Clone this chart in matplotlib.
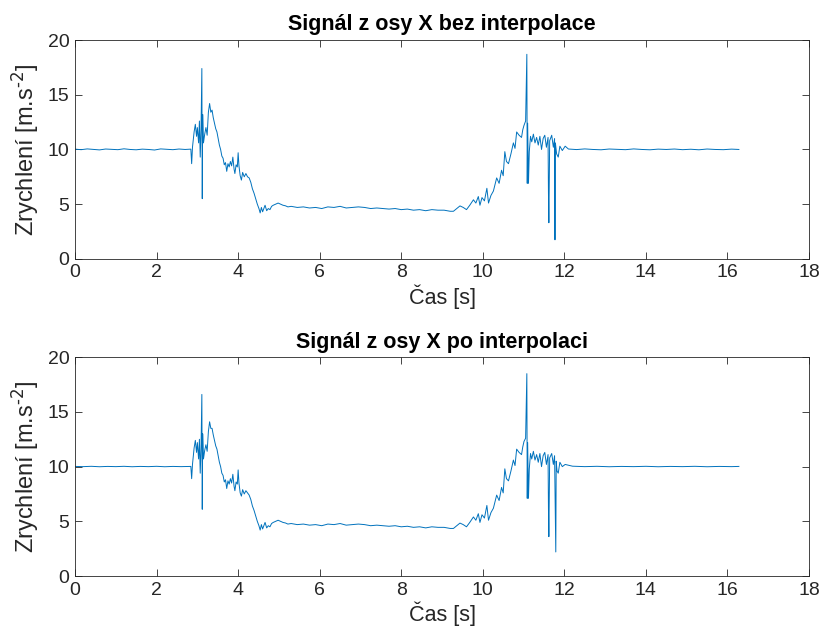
"""Signál z osy X - před a po interpolaci (two stacked plots)."""

import matplotlib

matplotlib.use("Agg")
import matplotlib.pyplot as plt

plt.rcParams["font.family"] = ["Liberation Sans", "DejaVu Sans"]
plt.rcParams["mathtext.default"] = "regular"

LINE_COLOR = "#0072BD"

# --- values --------------------------------------------------------------
t_raw = [
    0.00, 0.15, 0.30, 0.45, 0.60, 0.75, 0.90, 1.05, 1.20, 1.35, 1.50, 1.65,
    1.80, 1.95, 2.10, 2.25, 2.40, 2.55, 2.70, 2.84,
    2.86, 2.88, 2.92, 2.95, 2.98, 3.00, 3.03, 3.05, 3.07, 3.09, 3.11, 3.12,
    3.13, 3.15, 3.18, 3.21, 3.24, 3.27, 3.30, 3.33, 3.36, 3.39, 3.42, 3.45,
    3.48, 3.51, 3.54, 3.57, 3.60, 3.63, 3.66, 3.69, 3.72, 3.75, 3.78, 3.81,
    3.84, 3.87, 3.90, 3.92, 3.95, 3.98, 4.00, 4.02, 4.05, 4.08, 4.11, 4.15,
    4.19, 4.23, 4.27, 4.31, 4.35, 4.39, 4.43, 4.47, 4.51, 4.54, 4.57, 4.60,
    4.63, 4.66, 4.70, 4.74, 4.78, 4.82, 4.86, 4.92, 4.98, 5.04, 5.10, 5.16,
    5.22, 5.30, 5.45, 5.60, 5.75, 5.90, 6.05, 6.20, 6.35, 6.50, 6.65, 6.80,
    6.95, 7.10, 7.25, 7.40, 7.55, 7.70, 7.85, 8.00, 8.15, 8.30, 8.45, 8.60,
    8.75, 8.90, 9.05, 9.20, 9.28, 9.36, 9.44, 9.52, 9.60, 9.68, 9.77, 9.83,
    9.89, 9.93, 9.98, 10.04, 10.10, 10.14, 10.20, 10.26, 10.34, 10.40, 10.46,
    10.50, 10.54, 10.58, 10.63, 10.69, 10.75, 10.79, 10.83, 10.89, 10.95,
    10.98, 11.01, 11.05, 11.08, 11.09, 11.10, 11.12, 11.14, 11.17, 11.20,
    11.24, 11.28, 11.32, 11.36, 11.40, 11.44, 11.48, 11.52, 11.56, 11.60,
    11.61, 11.62, 11.64, 11.69, 11.73, 11.76, 11.77, 11.78, 11.81, 11.85,
    11.89, 11.95, 12.02, 12.10, 12.30, 12.50, 12.70, 12.90, 13.10, 13.30,
    13.50, 13.70, 13.90, 14.10, 14.30, 14.50, 14.70, 14.90, 15.10, 15.30,
    15.50, 15.70, 15.90, 16.10, 16.28,
]
acc_raw = [
    10.03, 9.98, 10.05, 10.00, 9.96, 10.04, 10.01, 9.98, 10.06, 10.00, 9.97, 10.03,
    10.00, 9.95, 10.05, 10.02, 9.98, 10.04, 10.00, 10.03,
    8.70, 10.20, 11.60, 12.30, 11.20, 12.00, 10.60, 12.60, 9.30, 11.80, 17.40, 5.50,
    13.20, 10.60, 11.40, 12.00, 11.30, 13.40, 14.20, 13.40, 13.60, 12.90, 12.40, 11.90,
    11.60, 11.00, 10.40, 10.00, 9.40, 9.20, 8.60, 8.80, 8.00, 8.70, 8.40, 8.90,
    8.50, 9.30, 8.20, 7.80, 8.60, 8.40, 9.70, 8.50, 7.60, 7.20, 7.90, 7.50,
    7.80, 7.50, 7.40, 7.00, 6.40, 6.00, 5.50, 5.00, 4.60, 4.20, 4.70, 4.30,
    4.60, 4.90, 4.40, 4.60, 4.50, 4.80, 4.90, 5.00, 5.10, 5.00, 4.90, 4.85,
    4.75, 4.80, 4.70, 4.75, 4.65, 4.70, 4.60, 4.75, 4.70, 4.80, 4.65, 4.70,
    4.75, 4.70, 4.60, 4.65, 4.60, 4.55, 4.60, 4.50, 4.55, 4.45, 4.50, 4.40,
    4.50, 4.45, 4.45, 4.35, 4.35, 4.60, 4.84, 4.70, 4.50, 4.90, 5.40, 5.10,
    5.70, 4.90, 5.60, 5.30, 6.45, 5.10, 5.80, 6.20, 7.40, 6.90, 8.10,
    7.60, 9.80, 8.90, 8.70, 9.60, 10.60, 10.10, 11.60, 11.30, 11.10,
    11.80, 12.20, 12.60, 18.70, 6.90, 12.40, 6.90, 9.80, 11.20, 10.70,
    11.40, 10.60, 11.10, 10.40, 11.20, 10.00, 11.00, 11.30, 10.20, 11.10,
    6.00, 3.30, 10.80, 11.30, 10.20, 11.00, 1.74, 10.60, 9.60, 9.30,
    10.30, 9.90, 10.30, 10.04, 9.99, 10.05, 10.00, 9.97, 10.04, 10.01,
    9.98, 10.05, 10.00, 9.97, 10.03, 10.00, 10.04, 9.98, 10.02, 9.97,
    10.04, 10.00, 9.98, 10.03, 10.00,
]

t_interp = [
    0.00, 0.20, 0.40, 0.60, 0.80, 1.00, 1.20, 1.40, 1.60, 1.80, 2.00, 2.20,
    2.40, 2.60, 2.84,
    2.86, 2.88, 2.92, 2.95, 2.98, 3.00, 3.03, 3.05, 3.07, 3.09, 3.11, 3.12,
    3.13, 3.15, 3.18, 3.21, 3.24, 3.27, 3.30, 3.33, 3.36, 3.39, 3.42, 3.45,
    3.48, 3.51, 3.54, 3.57, 3.60, 3.63, 3.66, 3.69, 3.72, 3.75, 3.78, 3.81,
    3.84, 3.87, 3.90, 3.92, 3.95, 3.98, 4.00, 4.02, 4.05, 4.08, 4.11, 4.15,
    4.19, 4.23, 4.27, 4.31, 4.35, 4.39, 4.43, 4.47, 4.51, 4.54, 4.57, 4.60,
    4.63, 4.66, 4.70, 4.74, 4.78, 4.82, 4.86, 4.92, 4.98, 5.04, 5.10, 5.16,
    5.22, 5.30, 5.45, 5.60, 5.75, 5.90, 6.05, 6.20, 6.35, 6.50, 6.65, 6.80,
    6.95, 7.10, 7.25, 7.40, 7.55, 7.70, 7.85, 8.00, 8.15, 8.30, 8.45, 8.60,
    8.75, 8.90, 9.05, 9.20, 9.28, 9.36, 9.44, 9.52, 9.60, 9.68, 9.77, 9.83,
    9.89, 9.93, 9.98, 10.04, 10.10, 10.14, 10.20, 10.26, 10.34, 10.40, 10.46,
    10.50, 10.54, 10.58, 10.63, 10.69, 10.75, 10.79, 10.83, 10.89, 10.95,
    10.98, 11.01, 11.05, 11.08, 11.09, 11.10, 11.12, 11.14, 11.17, 11.20,
    11.24, 11.28, 11.32, 11.36, 11.40, 11.44, 11.48, 11.52, 11.56, 11.60,
    11.61, 11.62, 11.64, 11.69, 11.73, 11.76, 11.79, 11.80, 11.82, 11.85,
    11.89, 11.95, 12.02, 12.20, 12.50, 12.80, 13.10, 13.40, 13.70, 14.00,
    14.30, 14.60, 14.90, 15.20, 15.50, 15.80, 16.10, 16.28,
]
acc_interp = [
    10.02, 10.00, 10.03, 9.99, 10.02, 10.00, 10.03, 9.99, 10.02, 10.00, 10.03, 9.99,
    10.02, 10.00, 10.02,
    8.90, 10.20, 11.70, 12.40, 11.30, 12.20, 10.70, 12.50, 9.40, 11.70, 16.60, 6.10,
    13.00, 10.70, 11.50, 12.00, 11.40, 13.20, 14.10, 13.50, 13.50, 12.90, 12.40, 11.90,
    11.60, 11.00, 10.40, 10.00, 9.40, 9.20, 8.60, 8.80, 8.00, 8.70, 8.40, 8.90,
    8.50, 9.30, 8.20, 7.80, 8.60, 8.40, 9.70, 8.50, 7.60, 7.30, 7.90, 7.50,
    7.80, 7.60, 7.40, 7.00, 6.40, 6.00, 5.50, 5.00, 4.60, 4.20, 4.70, 4.30,
    4.60, 4.90, 4.40, 4.60, 4.50, 4.80, 4.90, 5.00, 5.10, 5.00, 4.90, 4.85,
    4.75, 4.80, 4.70, 4.75, 4.65, 4.70, 4.60, 4.75, 4.70, 4.80, 4.65, 4.70,
    4.75, 4.70, 4.60, 4.65, 4.60, 4.55, 4.60, 4.50, 4.55, 4.45, 4.50, 4.40,
    4.50, 4.45, 4.45, 4.35, 4.35, 4.60, 4.84, 4.70, 4.50, 4.90, 5.40, 5.10,
    5.70, 4.90, 5.60, 5.30, 6.45, 5.10, 5.80, 6.20, 7.40, 6.90, 8.10,
    7.60, 9.80, 8.90, 8.70, 9.60, 10.60, 10.10, 11.60, 11.30, 11.10,
    11.80, 12.30, 12.60, 18.50, 7.10, 12.20, 7.10, 9.80, 11.20, 10.70,
    11.40, 10.60, 11.10, 10.40, 11.20, 10.00, 11.00, 11.30, 10.20, 11.10,
    6.20, 3.60, 10.80, 11.20, 10.20, 11.00, 2.20, 10.50, 9.60, 9.40,
    10.40, 10.00, 10.20, 10.04, 10.00, 10.03, 9.99, 10.02, 10.00, 10.03,
    9.99, 10.02, 10.00, 10.03, 9.99, 10.02, 10.00, 10.02,
]

titles = ["Signál z osy X bez interpolace", "Signál z osy X po interpolaci"]
x_ticks = [0, 2, 4, 6, 8, 10, 12, 14, 16, 18]
y_ticks = [0, 5, 10, 15, 20]


def style_axes(ax, title):
    ax.set_xlim(0, 18)
    ax.set_ylim(0, 20)
    ax.set_xticks(x_ticks)
    ax.set_yticks(y_ticks)
    ax.tick_params(direction="in", length=5, width=0.6, top=True, right=True,
                   labelsize=14, colors="#262626", pad=4)
    for spine in ax.spines.values():
        spine.set_linewidth(0.6)
        spine.set_color("#262626")
    ax.set_title(title, fontsize=15.5, fontweight="bold", pad=7)
    ax.set_xlabel("Čas [s]", fontsize=15.5, color="#262626", labelpad=2)
    ax.set_ylabel(r"Zrychlení [m.s$^{\text{-2}}$]", fontsize=17, color="#262626",
                  labelpad=5)


fig = plt.figure(figsize=(8.21, 6.36), dpi=100)
ax_top = fig.add_axes([0.0914, 0.593, 0.894, 0.344])
ax_bot = fig.add_axes([0.0914, 0.0943, 0.894, 0.344])

ax_top.plot(t_raw, acc_raw, color=LINE_COLOR, lw=0.7)
ax_bot.plot(t_interp, acc_interp, color=LINE_COLOR, lw=0.7)

style_axes(ax_top, titles[0])
style_axes(ax_bot, titles[1])

fig.savefig("out.png", dpi=100)
